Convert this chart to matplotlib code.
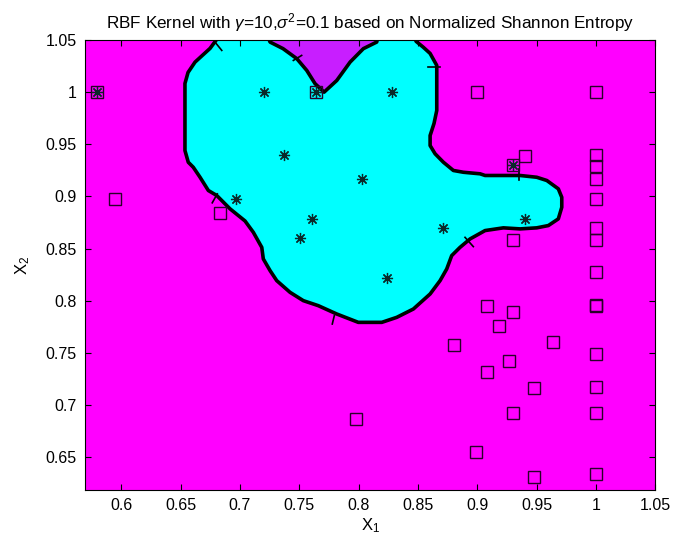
import numpy as np
import matplotlib.pyplot as plt
from matplotlib.ticker import FuncFormatter

plt.rcParams['font.family'] = ['Liberation Sans', 'DejaVu Sans']
plt.rcParams['mathtext.fontset'] = 'custom'
plt.rcParams['mathtext.rm'] = 'Liberation Sans'
plt.rcParams['mathtext.it'] = 'Liberation Sans:italic'

# class -1 points (squares)
sq_x = [0.58, 0.5945, 0.683, 0.764, 0.90, 0.940, 0.930, 0.930, 0.908, 0.930, 0.918,
        0.880, 0.9635, 0.9267, 0.9082, 0.948, 0.930, 0.899, 0.948,
        1.0, 1.0, 1.0, 1.0, 1.0, 1.0, 1.0, 1.0, 1.0, 1.0, 1.0, 1.0, 1.0, 1.0, 0.798]
sq_y = [1.0, 0.898, 0.8845, 1.0, 1.0, 0.939, 0.930, 0.8586, 0.7953, 0.789, 0.7755,
        0.7576, 0.760, 0.7425, 0.7313, 0.716, 0.692, 0.6552, 0.6315,
        1.0, 0.940, 0.9294, 0.917, 0.898, 0.870, 0.8586, 0.8273, 0.7956,
        0.749, 0.717, 0.692, 0.634, 0.795, 0.687]

# class +1 points (asterisks)
st_x = [0.58, 0.7205, 0.764, 0.8279, 0.7374, 0.8026, 0.6965, 0.761, 0.7506,
        0.8714, 0.9402, 0.8237, 0.930]
st_y = [1.0, 1.0, 1.0, 1.0, 0.9393, 0.9169, 0.8977, 0.8785, 0.860,
        0.870, 0.8785, 0.822, 0.930]

# decision boundary (traced), closed polygon around the cyan region
bnd_x = [0.6866, 0.6748, 0.6622, 0.6563, 0.6537, 0.6537, 0.6565, 0.6607, 0.6664, 0.6734,
         0.6805, 0.6917, 0.7043, 0.7113, 0.7184, 0.7197, 0.7254, 0.7310, 0.7422, 0.7534,
         0.7660, 0.7816, 0.7997, 0.8195, 0.8321, 0.8461, 0.8602, 0.8686, 0.8742, 0.8784,
         0.8854, 0.8939, 0.9065, 0.9219, 0.9360, 0.9500, 0.9598, 0.9682, 0.9711, 0.9711,
         0.9682, 0.9585, 0.9500, 0.9360, 0.9065, 0.9023, 0.8882, 0.8798, 0.8714, 0.8644,
         0.8602, 0.8602, 0.8635, 0.8658, 0.8658, 0.8602, 0.8543, 0.8484, 0.8450, 0.8180,
         0.8152, 0.8040, 0.7928, 0.7816, 0.7709, 0.7633, 0.7563, 0.7479, 0.7363, 0.7254,
         0.7211]
bnd_y = [1.06, 1.0419, 1.0288, 1.0189, 1.0083, 0.9440, 0.9328, 0.9280, 0.9184, 0.9057,
         0.9009, 0.8881, 0.8765, 0.8656, 0.8512, 0.8401, 0.8289, 0.8193, 0.8081, 0.8001,
         0.7953, 0.7873, 0.7793, 0.7793, 0.7841, 0.7921, 0.8065, 0.8193, 0.8305, 0.8433,
         0.8512, 0.8593, 0.8673, 0.8699, 0.8689, 0.8699, 0.8721, 0.8785, 0.8896, 0.8992,
         0.9073, 0.9153, 0.9184, 0.9201, 0.9201, 0.9217, 0.9232, 0.9249, 0.9328, 0.9409,
         0.9488, 0.9584, 0.9700, 0.9824, 1.0256, 1.0371, 1.0432, 1.0487, 1.06, 1.06,
         1.0480, 1.0417, 1.0288, 1.0112, 1.0, 1.0081, 1.0208, 1.0321, 1.0417, 1.0480,
         1.06]
notch_start = 59  # notch between the two lobes (third colour level)

# short stray tick strokes sitting on the boundary
tick_x0 = [0.6767, 0.6790, 0.7450, 0.8587, 0.8896, 0.9351, 0.7778]
tick_y0 = [0.8939, 1.0480, 1.0304, 1.0240, 0.8608, 0.9265, 0.7777]
tick_x1 = [0.6809, 0.6847, 0.7520, 0.8686, 0.8966, 0.9351, 0.7795]
tick_y1 = [0.9025, 1.0400, 1.0352, 1.0240, 0.8519, 0.9159, 0.7857]

fig = plt.figure(figsize=(6.73, 5.44), dpi=100)
ax = fig.add_axes([0.1263, 0.0993, 0.8476, 0.8272])
ax.set_facecolor('#ff00ff')

ax.fill(bnd_x, bnd_y, color='#00ffff', zorder=1)
ax.fill(bnd_x[notch_start:], bnd_y[notch_start:], color='#c81eff', zorder=1)
ax.plot(bnd_x + bnd_x[:1], bnd_y + bnd_y[:1], color='k', lw=2.6, zorder=2)
for a, b, c, d in zip(tick_x0, tick_y0, tick_x1, tick_y1):
    ax.plot([a, c], [b, d], color='k', lw=1.2, zorder=2)

ax.plot(sq_x, sq_y, 's', ms=8, mfc='none', mec='#2a002a', mew=1.0, zorder=3)
ax.plot(st_x, st_y, ls='none', marker=(8, 2, 0), ms=8, color='#0a2a2a', mew=0.9, zorder=4)

ax.set_xlim(0.5695, 1.05)
ax.set_ylim(0.6186, 1.05)
ax.set_xticks(np.arange(0.6, 1.051, 0.05))
ax.set_yticks(np.arange(0.65, 1.051, 0.05))
fmt = FuncFormatter(lambda v, p: '%g' % round(v, 2))
ax.xaxis.set_major_formatter(fmt)
ax.yaxis.set_major_formatter(fmt)
ax.tick_params(direction='in', top=True, right=True, length=4.5, width=0.8,
               labelsize=11.5, pad=6)
for s in ax.spines.values():
    s.set_linewidth(0.8)

ax.set_title(r'RBF Kernel with $\gamma$=10,$\sigma^2$=0.1 based on Normalized Shannon Entropy',
             fontsize=12.3, pad=8)
ax.set_xlabel(r'X$_1$', fontsize=12, labelpad=2)
ax.set_ylabel(r'X$_2$', fontsize=12, labelpad=10)

fig.savefig('out.png', dpi=100)
